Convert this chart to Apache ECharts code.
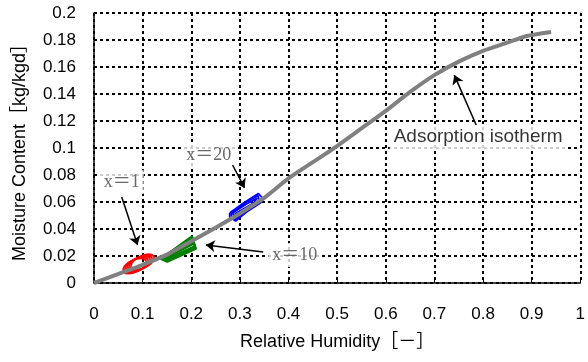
<!DOCTYPE html>
<html>
<head>
<meta charset="utf-8">
<script src="https://cdn.jsdelivr.net/npm/echarts@6/dist/echarts.min.js"></script>
<style>
  html, body { margin: 0; padding: 0; background: #fff; }
  #chart { width: 588px; height: 362px; }
</style>
</head>
<body>
<div id="chart"></div>
<script>
// adsorption isotherm [RH, MC]
const isotherm = [
  [0, 0], [0.03, 0.004], [0.06, 0.008], [0.1, 0.0135], [0.15, 0.021], [0.2, 0.031],
  [0.25, 0.041], [0.3, 0.0515], [0.35, 0.063], [0.4, 0.0775], [0.45, 0.0895],
  [0.49, 0.099], [0.55, 0.1145], [0.6, 0.1275], [0.65, 0.1415], [0.7, 0.154],
  [0.75, 0.164], [0.8, 0.172], [0.85, 0.178], [0.89, 0.183], [0.94, 0.186]
];

// hysteresis loops, x = 1 (red)
const loopsX1 = [
  [[0.1075, 0.0167], [0.1041, 0.0126], [0.0886, 0.0086], [0.0703, 0.0069], [0.0595, 0.0085],
   [0.0629, 0.0126], [0.0784, 0.0166], [0.0967, 0.0183], [0.1075, 0.0167]],
  [[0.1115, 0.0174], [0.1081, 0.0133], [0.0926, 0.0093], [0.0743, 0.0076], [0.0635, 0.0092],
   [0.0669, 0.0133], [0.0824, 0.0173], [0.1007, 0.0190], [0.1115, 0.0174]],
  [[0.1156, 0.0182], [0.1122, 0.0141], [0.0967, 0.0101], [0.0784, 0.0084], [0.0676, 0.0100],
   [0.0710, 0.0141], [0.0865, 0.0181], [0.1048, 0.0198], [0.1156, 0.0182]],
  [[0.1197, 0.0189], [0.1163, 0.0148], [0.1008, 0.0108], [0.0825, 0.0091], [0.0717, 0.0107],
   [0.0751, 0.0148], [0.0906, 0.0188], [0.1089, 0.0205], [0.1197, 0.0189]],
  [[0.1238, 0.0197], [0.1204, 0.0156], [0.1049, 0.0116], [0.0866, 0.0099], [0.0758, 0.0115],
   [0.0792, 0.0156], [0.0947, 0.0196], [0.1130, 0.0213], [0.1238, 0.0197]]
];

// hysteresis loops, x = 10 (green)
const loopsX10 = [
  [[0.1365, 0.0178], [0.2016, 0.0348], [0.2098, 0.0252], [0.1507, 0.0156], [0.1365, 0.0178]],
  [[0.1375, 0.0181], [0.2021, 0.0340], [0.2093, 0.0256], [0.1497, 0.0160], [0.1375, 0.0181]],
  [[0.1385, 0.0185], [0.2026, 0.0326], [0.2088, 0.0259], [0.1487, 0.0163], [0.1385, 0.0185]],
  [[0.1395, 0.0187], [0.2031, 0.0315], [0.2082, 0.0265], [0.1476, 0.0166], [0.1395, 0.0187]],
  [[0.1405, 0.0189], [0.2037, 0.0304], [0.2077, 0.0270], [0.1466, 0.0170], [0.1405, 0.0189]],
  [[0.1415, 0.0191], [0.2042, 0.0296], [0.2072, 0.0274], [0.1456, 0.0174], [0.1415, 0.0191]],
  [[0.1426, 0.0193], [0.2047, 0.0289], [0.2067, 0.0278], [0.1446, 0.0178], [0.1426, 0.0193]],
  [[0.1395, 0.0182], [0.2021, 0.0337], [0.2032, 0.0320], [0.1410, 0.0175], [0.1395, 0.0182]]
];

// hysteresis loops, x = 20 (blue)
const loopsX20 = [
  [[0.2790, 0.0519], [0.3075, 0.0593], [0.3381, 0.0663], [0.3483, 0.0622], [0.3422, 0.0593],
   [0.3136, 0.0526], [0.2912, 0.0459], [0.2790, 0.0489], [0.2790, 0.0519]],
  [[0.2820, 0.0519], [0.3105, 0.0590], [0.3370, 0.0648], [0.3400, 0.0610], [0.3100, 0.0530],
   [0.2900, 0.0470], [0.2820, 0.0500], [0.2820, 0.0519]],
  [[0.2851, 0.0519], [0.3136, 0.0585], [0.3360, 0.0630], [0.3279, 0.0593], [0.3014, 0.0519],
   [0.2892, 0.0481], [0.2851, 0.0519]],
  [[0.2892, 0.0511], [0.3177, 0.0570], [0.3320, 0.0600], [0.3035, 0.0519], [0.2912, 0.0496],
   [0.2892, 0.0511]]
];

// annotations
const labelTexts = ["x＝1", "x＝10", "x＝20", "Adsorption isotherm"];
const labelPos = [[0.057, 0.0748], [0.413, 0.0207], [0.236, 0.0948], [0.79, 0.108]];
const arrows = [
  [[0.057, 0.0637], [0.0896, 0.0281]],
  [[0.348, 0.023], [0.230, 0.0281]],
  [[0.285, 0.0874], [0.3096, 0.0704]],
  [[0.786, 0.117], [0.741, 0.154]]
];

const chart = echarts.init(document.getElementById("chart"));

function loopSeries(loops, color, smooth) {
  return loops.map(pts => ({
    type: "line",
    data: pts,
    symbol: "none",
    smooth: smooth,
    lineStyle: { color: color, width: 1.8 },
    z: 2
  }));
}

const sansFont = "'Liberation Sans', 'Noto Sans CJK JP', sans-serif";
const serifFont = "'Liberation Serif', 'Noto Sans CJK JP', serif";
const gridDash = { color: "#000", width: 2, type: [3, 3] };

const option = {
  animation: false,
  grid: { left: 94, top: 13, right: 3, bottom: 79 },
  xAxis: {
    type: "value",
    min: 0,
    max: 1,
    interval: 0.1,
    name: "Relative Humidity［－］",
    nameLocation: "middle",
    nameGap: 50,
    nameTextStyle: { fontFamily: sansFont, fontSize: 18, color: "#000" },
    axisLine: { lineStyle: { color: "#000", width: 1.5 } },
    axisTick: { inside: true, length: 5, lineStyle: { color: "#000" } },
    axisLabel: { fontFamily: sansFont, fontSize: 17, color: "#000", margin: 23 },
    splitLine: { lineStyle: gridDash }
  },
  yAxis: {
    type: "value",
    min: 0,
    max: 0.2,
    interval: 0.02,
    name: "Moisture Content［kg/kgd］",
    nameLocation: "middle",
    nameGap: 65,
    nameTextStyle: { fontFamily: sansFont, fontSize: 18, color: "#000" },
    axisLine: { show: true, lineStyle: { color: "#000", width: 1.5 } },
    axisTick: { show: false },
    axisLabel: { fontFamily: sansFont, fontSize: 17, color: "#000", margin: 18 },
    splitLine: { lineStyle: gridDash }
  },
  series: [
    ...loopSeries(loopsX1, "#ff0000", true),
    ...loopSeries(loopsX10, "#008000", false),
    ...loopSeries(loopsX20, "#0000ff", false),
    {
      type: "line",
      data: isotherm,
      symbol: "none",
      smooth: 0.2,
      lineStyle: { color: "#808080", width: 4 },
      z: 3
    },
    {
      type: "scatter",
      symbolSize: 0,
      z: 4,
      data: labelPos.map((p, i) => ({ value: p, name: labelTexts[i] })),
      label: {
        show: true,
        position: "inside",
        backgroundColor: "#fff",
        padding: [3, 4],
        formatter: p => (p.dataIndex < 3 ? "{s|" + p.name + "}" : "{a|" + p.name + "}"),
        rich: {
          s: { fontFamily: serifFont, fontSize: 18, color: "#444" },
          a: { fontFamily: sansFont, fontSize: 19, color: "#000" }
        }
      }
    },
    {
      type: "lines",
      coordinateSystem: "cartesian2d",
      z: 5,
      symbol: ["none", "arrow"],
      symbolSize: 9,
      lineStyle: { color: "#000", width: 1.5, opacity: 1 },
      data: arrows.map(a => ({ coords: a }))
    }
  ]
};

chart.setOption(option);
</script>
</body>
</html>
